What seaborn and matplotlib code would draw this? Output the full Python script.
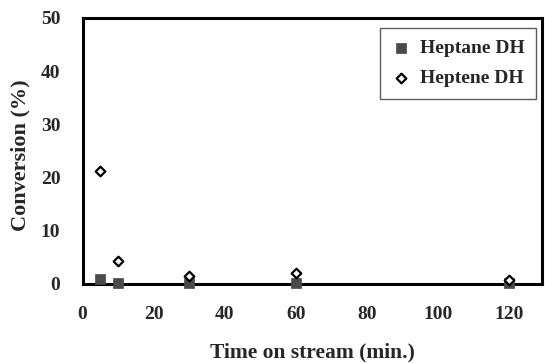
import matplotlib
matplotlib.use("Agg")
import matplotlib.pyplot as plt
import seaborn as sns
import pandas as pd

time_min = [5, 10, 30, 60, 120]
heptane_dh = [0.8, 0.15, 0.1, 0.1, 0.1]
heptene_dh = [21.2, 4.3, 1.4, 1.9, 0.65]

sns.set_theme(style="white")
plt.rcParams['font.family'] = ['Liberation Serif', 'DejaVu Serif']
plt.rcParams['font.weight'] = 'bold'

df = pd.DataFrame({
    "time": time_min * 2,
    "conv": heptane_dh + heptene_dh,
    "series": ["Heptane DH"] * len(time_min) + ["Heptene DH"] * len(time_min),
})

W, H = 545, 363
fig = plt.figure(figsize=(W / 100, H / 100), dpi=100)
ax = fig.add_axes([82.5 / W, 1 - 283.5 / H, (541.5 - 82.5) / W, (283.5 - 18) / H])

sns.scatterplot(data=df[df.series == "Heptane DH"], x="time", y="conv", ax=ax,
                marker="s", s=52, color="#4a4a4a", edgecolor="#4a4a4a", linewidth=0.5,
                label="Heptane DH", zorder=3, clip_on=False)
sns.scatterplot(data=df[df.series == "Heptene DH"], x="time", y="conv", ax=ax,
                marker="D", s=24, facecolor="white", edgecolor="black", linewidth=1.6,
                label="Heptene DH", zorder=4, clip_on=False)

ax.set_xlim(0, 129)
ax.set_ylim(0, 50)
ax.set_xticks([0, 20, 40, 60, 80, 100, 120])
ax.set_yticks([0, 10, 20, 30, 40, 50])
ax.tick_params(axis='x', length=0, labelsize=14, pad=16)
ax.tick_params(axis='y', length=0, labelsize=14, pad=16)
for lab in ax.get_xticklabels() + ax.get_yticklabels():
    lab.set_fontweight('bold')
for s in ax.spines.values():
    s.set_linewidth(2.2)
    s.set_color('black')

ax.set_xlabel("Time on stream (min.)", fontsize=15.5, fontweight='bold', va='center')
ax.xaxis.set_label_coords(312 / W, 1 - 352 / H, transform=fig.transFigure)
ax.set_ylabel("Conversion (%)", fontsize=16, fontweight='bold', va='center')
ax.yaxis.set_label_coords(20 / W, 1 - 155 / H, transform=fig.transFigure)

leg = ax.legend(loc="upper right", bbox_to_anchor=(536 / W, 1 - 27.7 / H),
                bbox_transform=fig.transFigure, frameon=True,
                fancybox=False, edgecolor='#333333',
                prop={'weight': 'bold', 'size': 14}, handletextpad=0.5,
                borderpad=0.6, labelspacing=0.65, handlelength=0.95,
                borderaxespad=0)
leg.get_frame().set_linewidth(1.0)

fig.savefig("out.png", dpi=100)
